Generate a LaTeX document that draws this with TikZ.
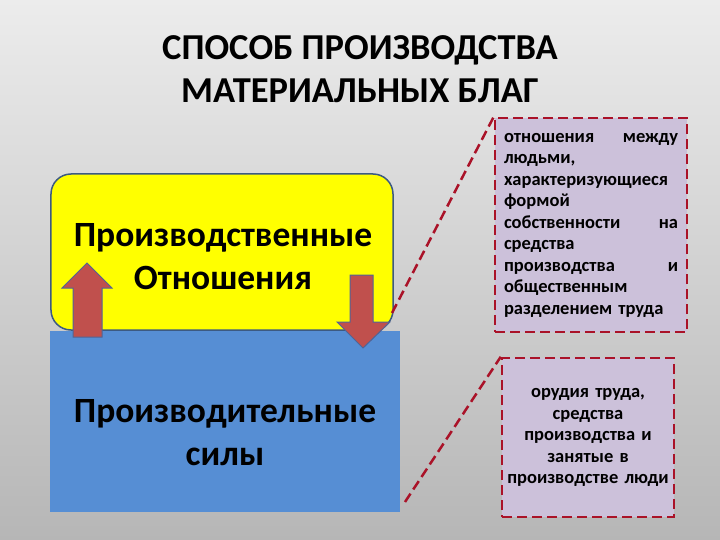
\documentclass[tikz,border=0pt]{standalone}
\usepackage{fontspec}
\setmainfont{Carlito}
\usetikzlibrary{calc}

\definecolor{slidetop}{RGB}{236,236,236}
\definecolor{slidebottom}{RGB}{182,182,182}
\definecolor{relyellow}{RGB}{255,255,0}
\definecolor{forceblue}{RGB}{86,142,212}
\definecolor{boxedge}{RGB}{60,90,130}
\definecolor{arrowred}{RGB}{192,80,77}
\definecolor{arrowedge}{RGB}{80,100,150}
\definecolor{notefill}{RGB}{204,193,218}
\definecolor{notedash}{RGB}{170,18,40}

\begin{document}
\begin{tikzpicture}[x=1bp,y=-1bp,
    boxfont/.style={font=\fontsize{35.5bp}{43bp}\selectfont\bfseries,align=center},
    notefont/.style={font=\fontsize{18.5bp}{21.5bp}\selectfont\bfseries},
    notebox/.style={draw=notedash,fill=notefill,line width=2.5bp,dash pattern=on 10bp off 5bp,inner ysep=0pt},
    notelink/.style={draw=notedash,line width=2.5bp,dash pattern=on 10bp off 5bp},
    blockarrow/.style={fill=arrowred,draw=arrowedge,line width=1bp}]

    % slide background
    \useasboundingbox (0,0) rectangle (720,540);
    \shade[top color=slidetop,bottom color=slidebottom] (0,0) rectangle (720,540);

    % title
    \node (title) at (360,69) [font=\fontsize{36.5bp}{43bp}\selectfont\bfseries,align=center]
        {СПОСОБ ПРОИЗВОДСТВА\\МАТЕРИАЛЬНЫХ БЛАГ};

    % base and superstructure
    \node (forces) at (225,421.5) [fill=forceblue,minimum width=350bp,minimum height=181bp,inner sep=0pt] {};
    \node (rel) at (222,252) [draw=boxedge,line width=1.5bp,fill=relyellow,rounded corners=20bp,
        minimum width=342bp,minimum height=156bp,inner sep=0pt] {};

    \node (reltext) at (223,257) [boxfont] {Производственные\\Отношения};
    \node (forcetext) at (225,433) [boxfont] {Производительные\\силы};

    % arrows between the two boxes
    \draw[blockarrow] (73,337) -- (73,288) -- (62,288) -- (87,263) -- (112,288) -- (102,288) -- (102,337) -- cycle;
    \draw[blockarrow] (350,275) -- (350,322) -- (337,322) -- (363,348) -- (390,322) -- (373,322) -- (373,275) -- cycle;

    % notes
    \node (relnote) at (591,225) [notebox,notefont,text width=174bp,inner xsep=9bp,minimum height=214bp,align=left]
        {отношения \hfill между\\
         людьми,\\
         характеризующиеся\\
         формой\\
         собственности \hfill на\\
         средства\\
         производства \hfill и\\
         общественным\\
         разделением труда};
    \node (forcenote) at (588,437.5) [notebox,notefont,text width=164bp,inner xsep=4bp,minimum height=159bp,align=center]
        {орудия труда,\\
         средства\\
         производства и\\
         занятые в\\
         производстве люди};

    % dashed links to the notes
    \coordinate (relfoot) at (392,313);
    \coordinate (forcefoot) at (405,502);
    \draw[notelink] (relfoot) -- (relnote.north west);
    \draw[notelink] (forcefoot) -- (forcenote.north west);
\end{tikzpicture}
\end{document}
